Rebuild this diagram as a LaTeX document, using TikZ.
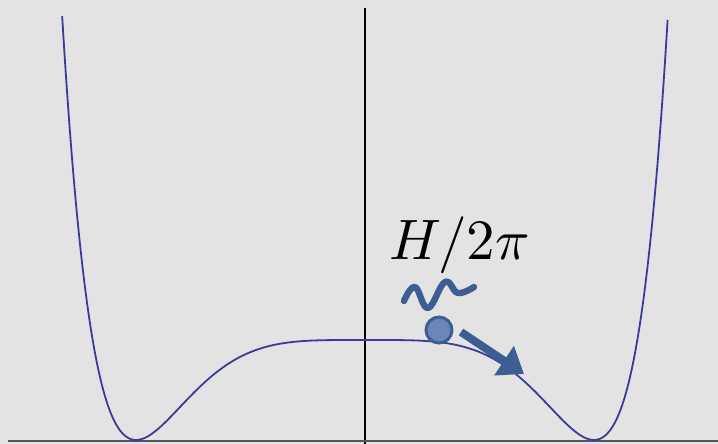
\documentclass[tikz,border=0pt]{standalone}
\usetikzlibrary{arrows.meta}
\definecolor{bgc}{HTML}{E3E3E3}
\definecolor{curvec}{HTML}{3B3B9E}
\definecolor{steel}{HTML}{3D5E93}
\definecolor{ballfill}{HTML}{6C85B7}
\definecolor{axisc}{HTML}{555555}
\tikzset{
  axisline/.style={line width=1pt, black},
  baseline axis/.style={line width=1.3pt, axisc},
  potential/.style={line width=0.9pt, curvec},
  squiggle/.style={line width=3.2pt, steel, line cap=round, line join=round},
  movearrow/.style={line width=4pt, steel, -{Triangle[length=12pt,width=17pt]}},
  ballstyle/.style={circle, minimum size=13pt, inner sep=0pt, fill=ballfill, draw=steel, line width=1.5pt},
  labelstyle/.style={inner sep=0pt, anchor=base west}
}
\begin{document}
\begin{tikzpicture}[x=0.5pt,y=0.5pt]
  \fill[bgc] (0,0) rectangle (718,444);
  \useasboundingbox (0,0) rectangle (718,444);
  % axes
  \coordinate (ytop) at (365,436);
  \coordinate (ybot) at (365,0);
  \coordinate (xleft) at (8,3);
  \coordinate (xright) at (718,3);
  \draw[axisline] (ytop) -- (ybot);
  \draw[baseline axis] (xleft) -- (xright);
  % potential curve
  \draw[potential] plot[domain=-1.3225:1.3225, samples=240, smooth]
    ({365+229*\x}, {4+100*(1-(\x)*(\x)*(\x)*(\x))*(1-(\x)*(\x)*(\x)*(\x))});
  % label
  \node[labelstyle] (lbl) at (389,184) {\scalebox{2.85}{$H/2\pi$}};
  % squiggle
  \coordinate (s1) at (404,143);
  \coordinate (s2) at (415,157);
  \coordinate (s3) at (428,136);
  \coordinate (s4) at (445,162);
  \coordinate (s5) at (458,151);
  \coordinate (s6) at (474,157);
  \draw[squiggle] plot[smooth, tension=0.7] coordinates {(s1) (s2) (s3) (s4) (s5) (s6)};
  % ball
  \node[ballstyle] (ball) at (439,114) {};
  % arrow
  \coordinate (aS) at (461,112);
  \coordinate (aE) at (524,70);
  \draw[movearrow] (aS) -- (aE);
\end{tikzpicture}
\end{document}
